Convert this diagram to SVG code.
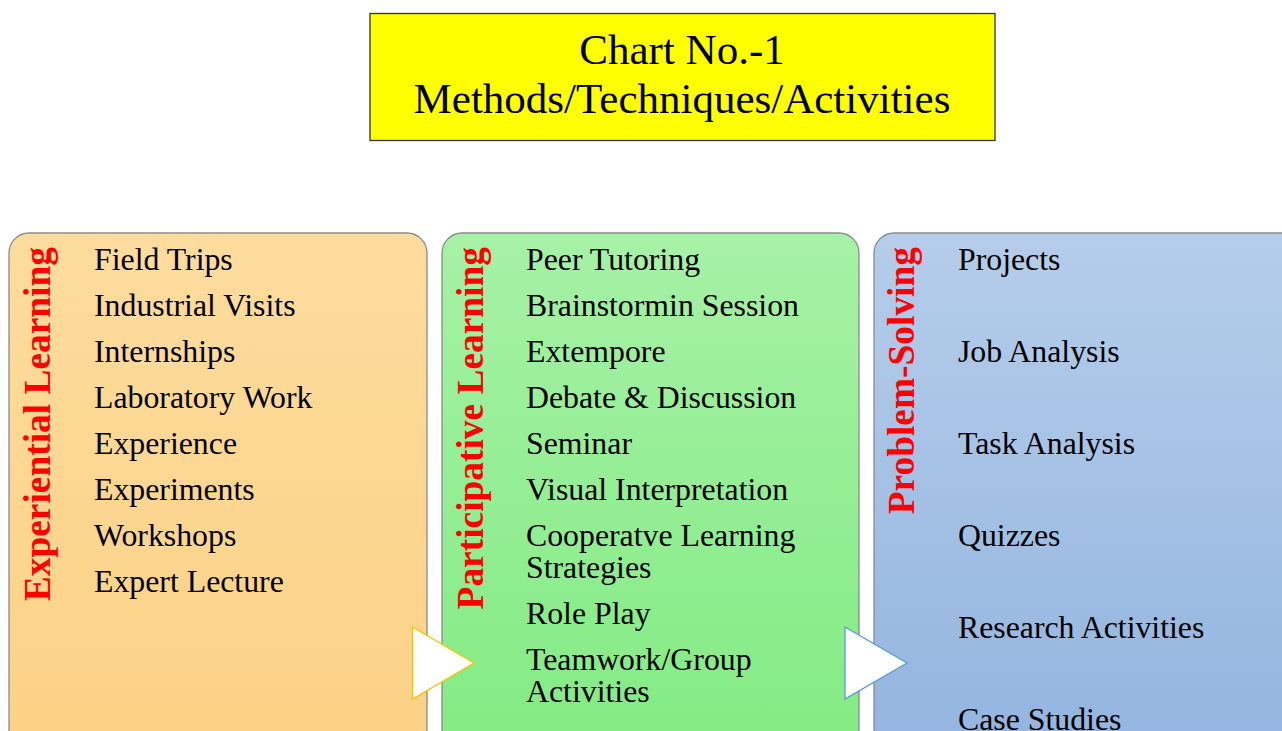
<svg xmlns="http://www.w3.org/2000/svg" width="1282" height="731" viewBox="0 0 1282 731">
<defs>
<linearGradient id="gOrange" x1="0" y1="0" x2="0" y2="1"><stop offset="0" stop-color="#FDDC9E"/><stop offset="1" stop-color="#FCD185"/></linearGradient>
<linearGradient id="gGreen" x1="0" y1="0" x2="0" y2="1"><stop offset="0" stop-color="#A6F1A6"/><stop offset="1" stop-color="#82EB82"/></linearGradient>
<linearGradient id="gBlue" x1="0" y1="0" x2="0" y2="1"><stop offset="0" stop-color="#B5CDEA"/><stop offset="1" stop-color="#92B4DF"/></linearGradient>
</defs>
<style>
.panel{stroke:#8A8A8A;stroke-width:1.3}
.item{font-family:"Liberation Serif","Times New Roman",serif;font-size:31.8px;fill:#000}
.head{font-family:"Liberation Serif","Times New Roman",serif;font-size:37.4px;font-weight:bold;fill:#FF0000}
.title{font-family:"Liberation Serif","Times New Roman",serif;font-size:43px;fill:#000;text-anchor:middle}
</style>
<rect width="1282" height="731" fill="#FFFFFF"/>
<g id="title">
<rect x="370" y="13.5" width="625" height="127" fill="#FFFF00" stroke="#333" stroke-width="1.3"/>
<text class="title" x="682" y="64">Chart No.-1</text>
<text class="title" x="682" y="113">Methods/Techniques/Activities</text>
</g>
<g id="experiential">
<rect class="panel" x="9" y="233" width="418" height="530" rx="20" fill="url(#gOrange)"/>
<text class="head" transform="translate(50,247) rotate(-90)" text-anchor="end">Experiential Learning</text>
<text class="item" x="94" y="270">Field Trips</text>
<text class="item" x="94" y="316">Industrial Visits</text>
<text class="item" x="94" y="362">Internships</text>
<text class="item" x="94" y="408">Laboratory Work</text>
<text class="item" x="94" y="454">Experience</text>
<text class="item" x="94" y="500">Experiments</text>
<text class="item" x="94" y="546">Workshops</text>
<text class="item" x="94" y="592">Expert Lecture</text>
</g>
<g id="participative">
<rect class="panel" x="442" y="233" width="417" height="530" rx="20" fill="url(#gGreen)"/>
<text class="head" transform="translate(483,247) rotate(-90)" text-anchor="end">Participative Learning</text>
<text class="item" x="526" y="270">Peer Tutoring</text>
<text class="item" x="526" y="316">Brainstormin Session</text>
<text class="item" x="526" y="362">Extempore</text>
<text class="item" x="526" y="408">Debate &amp; Discussion</text>
<text class="item" x="526" y="454">Seminar</text>
<text class="item" x="526" y="500">Visual Interpretation</text>
<text class="item" x="526" y="546">Cooperatve Learning</text>
<text class="item" x="526" y="578">Strategies</text>
<text class="item" x="526" y="624">Role Play</text>
<text class="item" x="526" y="670">Teamwork/Group</text>
<text class="item" x="526" y="702">Activities</text>
</g>
<g id="problem-solving">
<rect class="panel" x="874" y="233" width="430" height="530" rx="20" fill="url(#gBlue)"/>
<text class="head" transform="translate(914,247) rotate(-90)" text-anchor="end">Problem-Solving</text>
<text class="item" x="958" y="270">Projects</text>
<text class="item" x="958" y="362">Job Analysis</text>
<text class="item" x="958" y="454">Task Analysis</text>
<text class="item" x="958" y="546">Quizzes</text>
<text class="item" x="958" y="638">Research Activities</text>
<text class="item" x="958" y="730">Case Studies</text>
</g>
<g id="connectors">
<polygon points="412.5,627 474,663 412.5,699" fill="#FFFFFF" stroke="#FFC000" stroke-width="1.3"/>
<polygon points="845,627 907,663 845,699" fill="#FFFFFF" stroke="#5B9BD5" stroke-width="1.3"/>
</g>
</svg>
